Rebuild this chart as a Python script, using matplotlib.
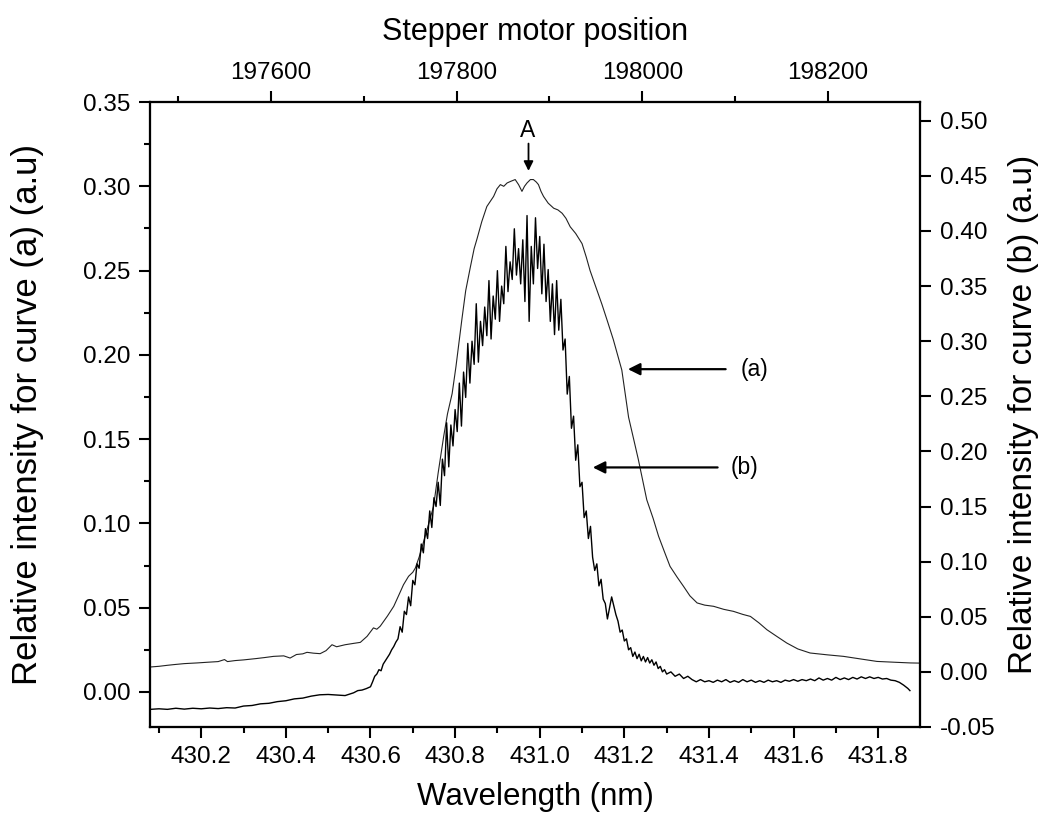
import numpy as np
import matplotlib
matplotlib.use("Agg")
import matplotlib.pyplot as plt
from matplotlib.ticker import MultipleLocator, FormatStrFormatter

plt.rcParams['font.family'] = ['Liberation Sans', 'DejaVu Sans']

# curve (a): left axis, thin line
wl_a = [430.080, 430.100, 430.120, 430.135, 430.160, 430.190, 430.214, 430.240, 430.255, 430.262,
        430.280, 430.300, 430.330, 430.350, 430.371, 430.395, 430.410, 430.425, 430.440, 430.450,
        430.465, 430.481, 430.495, 430.509, 430.520, 430.540, 430.560, 430.576, 430.592, 430.607,
        430.615, 430.623, 430.640, 430.655, 430.668, 430.678, 430.690, 430.700, 430.706, 430.715,
        430.730, 430.749, 430.760, 430.773, 430.782, 430.793, 430.802, 430.808, 430.816, 430.825,
        430.836, 430.845, 430.852, 430.863, 430.875, 430.883, 430.891, 430.899, 430.907, 430.915,
        430.923, 430.932, 430.942, 430.950, 430.958, 430.964, 430.970, 430.978, 430.985, 430.992,
        430.997, 431.003, 431.009, 431.020, 431.033, 431.043, 431.053, 431.062, 431.072, 431.085,
        431.100, 431.110, 431.119, 431.133, 431.147, 431.160, 431.174, 431.194, 431.210, 431.222,
        431.233, 431.253, 431.268, 431.281, 431.295, 431.308, 431.325, 431.340, 431.355, 431.372,
        431.390, 431.411, 431.435, 431.458, 431.480, 431.498, 431.518, 431.537, 431.560, 431.584,
        431.610, 431.639, 431.680, 431.718, 431.760, 431.797, 431.840, 431.876, 431.899]
int_a = [0.0148, 0.0152, 0.0158, 0.0162, 0.0168, 0.0172, 0.0176, 0.0180, 0.0192, 0.0180,
         0.0186, 0.0190, 0.0198, 0.0204, 0.0211, 0.0214, 0.0201, 0.0222, 0.0226, 0.0235,
         0.0230, 0.0227, 0.0245, 0.0280, 0.0268, 0.0280, 0.0288, 0.0294, 0.0330, 0.0380,
         0.0372, 0.0390, 0.0450, 0.0508, 0.0580, 0.0636, 0.0686, 0.0710, 0.0735, 0.0800,
         0.0930, 0.1100, 0.1300, 0.1516, 0.1650, 0.1770, 0.1930, 0.2050, 0.2210, 0.2380,
         0.2520, 0.2630, 0.2690, 0.2790, 0.2880, 0.2910, 0.2940, 0.2985, 0.3010, 0.3000,
         0.3020, 0.3030, 0.3040, 0.3010, 0.2970, 0.3000, 0.3020, 0.3040, 0.3040, 0.3025,
         0.3010, 0.2970, 0.2940, 0.2900, 0.2870, 0.2860, 0.2840, 0.2810, 0.2760, 0.2720,
         0.2660, 0.2580, 0.2500, 0.2400, 0.2300, 0.2200, 0.2090, 0.1910, 0.1630, 0.1500,
         0.1380, 0.1140, 0.1030, 0.0923, 0.0830, 0.0745, 0.0680, 0.0626, 0.0570, 0.0528,
         0.0515, 0.0508, 0.0490, 0.0478, 0.0460, 0.0448, 0.0410, 0.0369, 0.0330, 0.0290,
         0.0255, 0.0231, 0.0220, 0.0211, 0.0195, 0.0181, 0.0176, 0.0172, 0.0171]

# curve (b): right axis, noisy
wl_b = [430.08, 430.10, 430.12, 430.14, 430.16, 430.18, 430.20, 430.22, 430.24, 430.26,
        430.28, 430.30, 430.32, 430.34, 430.36, 430.38, 430.40, 430.42, 430.44, 430.46,
        430.48, 430.50, 430.52, 430.54, 430.56, 430.57, 430.58, 430.59, 430.60, 430.605,
        430.61, 430.615, 430.62, 430.625, 430.63, 430.635, 430.64, 430.645, 430.65, 430.655,
        430.66,
        430.665, 430.670, 430.675, 430.680, 430.685, 430.690, 430.695, 430.700, 430.705, 430.710,
        430.715, 430.720, 430.725, 430.730, 430.735, 430.740, 430.745, 430.750, 430.755, 430.760,
        430.765, 430.770, 430.775, 430.780, 430.785, 430.790, 430.795, 430.800, 430.805, 430.810,
        430.815, 430.820, 430.825, 430.830, 430.835, 430.840, 430.845, 430.850, 430.855, 430.860,
        430.865, 430.870, 430.875, 430.880, 430.885, 430.890, 430.895, 430.900, 430.905, 430.910,
        430.915, 430.920, 430.925, 430.930, 430.935, 430.940, 430.945, 430.950, 430.955, 430.960,
        430.965, 430.970, 430.975, 430.980, 430.985, 430.990, 430.995, 431.000, 431.005, 431.010,
        431.015, 431.020, 431.025, 431.030, 431.035, 431.040, 431.045, 431.050, 431.055, 431.060,
        431.065, 431.070, 431.075, 431.080, 431.085, 431.090, 431.095, 431.100, 431.105, 431.110,
        431.115, 431.120, 431.125,
        431.130, 431.135, 431.140, 431.145, 431.150, 431.155, 431.160, 431.165, 431.170, 431.175,
        431.180, 431.185, 431.190, 431.195, 431.200, 431.205, 431.210, 431.215, 431.220, 431.225,
        431.230, 431.235, 431.240, 431.245, 431.250, 431.255, 431.260, 431.265, 431.270, 431.275,
        431.280, 431.285, 431.290, 431.295, 431.300, 431.310, 431.320, 431.330, 431.340, 431.350,
        431.36, 431.37, 431.38, 431.39, 431.40, 431.41, 431.42, 431.43, 431.44, 431.45,
        431.46, 431.47, 431.48, 431.49, 431.50, 431.51, 431.52, 431.53, 431.54, 431.55,
        431.56, 431.57, 431.58, 431.59, 431.60, 431.61, 431.62, 431.63, 431.64, 431.65,
        431.66, 431.67, 431.68, 431.69, 431.70, 431.71, 431.72, 431.73, 431.74, 431.75,
        431.76, 431.77, 431.78, 431.79, 431.80, 431.81, 431.82, 431.83, 431.84, 431.85,
        431.86, 431.87, 431.875]
int_b = [-0.0340, -0.0335, -0.0340, -0.0330, -0.0338, -0.0330, -0.0335, -0.0328, -0.0333, -0.0325,
         -0.0328, -0.0310, -0.0305, -0.0290, -0.0285, -0.0270, -0.0262, -0.0245, -0.0238, -0.0220,
         -0.0208, -0.0205, -0.0210, -0.0215, -0.0190, -0.0170, -0.0165, -0.0152, -0.0135, -0.0090,
         -0.0040, -0.0020, 0.0020, 0.0010, 0.0070, 0.0100, 0.0130, 0.0160, 0.0200, 0.0230,
         0.0270,
         0.030, 0.041, 0.036, 0.055, 0.052, 0.068, 0.060, 0.083, 0.079, 0.098,
         0.094, 0.116, 0.108, 0.130, 0.121, 0.146, 0.131, 0.158, 0.150, 0.172,
         0.151, 0.193, 0.178, 0.226, 0.186, 0.224, 0.205, 0.238, 0.218, 0.262,
         0.223, 0.272, 0.249, 0.298, 0.262, 0.300, 0.279, 0.334, 0.281, 0.318,
         0.296, 0.331, 0.305, 0.355, 0.302, 0.341, 0.320, 0.364, 0.318, 0.350,
         0.334, 0.386, 0.345, 0.372, 0.356, 0.402, 0.360, 0.384, 0.352, 0.392,
         0.336, 0.414, 0.318, 0.386, 0.352, 0.412, 0.366, 0.395, 0.343, 0.388,
         0.336, 0.365, 0.318, 0.352, 0.306, 0.355, 0.310, 0.338, 0.292, 0.302,
         0.252, 0.268, 0.221, 0.232, 0.192, 0.206, 0.168, 0.172, 0.140, 0.146,
         0.121, 0.132, 0.104,
         0.092, 0.098, 0.078, 0.084, 0.066, 0.062, 0.048, 0.058, 0.068, 0.060,
         0.052, 0.046, 0.036, 0.038, 0.028, 0.030, 0.020, 0.022, 0.014, 0.018,
         0.012, 0.016, 0.010, 0.014, 0.009, 0.013, 0.008, 0.011, 0.006, 0.009,
         0.003, 0.005, 0.000, 0.002, -0.002, 0.000, -0.004, -0.002, -0.006, -0.004,
         -0.0070, -0.0090, -0.0070, -0.0090, -0.0080, -0.0095, -0.0075, -0.0090, -0.0070, -0.0095,
         -0.0080, -0.0095, -0.0070, -0.0090, -0.0075, -0.0095, -0.0080, -0.0095, -0.0075, -0.0090,
         -0.0080, -0.0095, -0.0075, -0.0085, -0.0070, -0.0085, -0.0070, -0.0080, -0.0065, -0.0080,
         -0.0055, -0.0075, -0.0060, -0.0075, -0.0050, -0.0070, -0.0055, -0.0070, -0.0050, -0.0065,
         -0.0045, -0.0060, -0.0045, -0.0060, -0.0050, -0.0065, -0.0060, -0.0075, -0.0080, -0.0095,
         -0.0120, -0.0150, -0.0170]

bottom_ticks = [430.2, 430.4, 430.6, 430.8, 431.0, 431.2, 431.4, 431.6, 431.8]
top_ticks = [197600, 197800, 198000, 198200]

fig = plt.figure(figsize=(10.42, 8.13), dpi=100)
ax = fig.add_axes([0.144, 0.1058, 0.739, 0.7687])
ax2 = ax.twinx()
ax3 = ax.twiny()

ax.plot(wl_a, int_a, color="#222222", linewidth=0.8)
ax2.plot(wl_b, int_b, color="black", linewidth=1.0)

ax.set_xlim(430.079, 431.899)
ax.set_ylim(-0.0208, 0.35)
ax2.set_ylim(-0.05, 0.517)
ax3.set_xlim(197470, 198299)

ax.set_xticks(bottom_ticks)
ax.xaxis.set_minor_locator(MultipleLocator(0.1))
ax.xaxis.set_major_formatter(FormatStrFormatter("%.1f"))
ax.yaxis.set_major_locator(MultipleLocator(0.05))
ax.yaxis.set_minor_locator(MultipleLocator(0.025))
ax.yaxis.set_major_formatter(FormatStrFormatter("%.2f"))
ax2.set_yticks(np.arange(-0.05, 0.51, 0.05))
ax2.yaxis.set_major_formatter(FormatStrFormatter("%.2f"))
ax3.set_xticks(top_ticks)
ax3.xaxis.set_minor_locator(MultipleLocator(100))

for a in (ax, ax2, ax3):
    for s in a.spines.values():
        s.set_linewidth(1.5)
    a.tick_params(which="major", direction="out", length=8, width=1.5, labelsize=17.5)
    a.tick_params(which="minor", direction="out", length=4.5, width=1.5)
ax.tick_params(axis="both", which="major", pad=6)
ax2.tick_params(axis="y", pad=6)
ax3.tick_params(axis="x", pad=5)

ax.set_xlabel("Wavelength (nm)", fontsize=22.5, labelpad=10)
ax3.set_xlabel("Stepper motor position", fontsize=22, labelpad=16)
ax.set_ylabel("Relative intensity for curve (a) (a.u)", fontsize=25)
ax2.set_ylabel("Relative intensity for curve (b) (a.u)", fontsize=24, labelpad=9)
ax.yaxis.set_label_coords(-0.138, 0.5)

# annotations
ax.text(430.9715, 0.3334, "A", fontsize=16.5, ha="center", va="center")
ax.annotate("", xy=(430.9735, 0.3075), xytext=(430.9735, 0.3270),
            arrowprops=dict(arrowstyle="-|>", color="black", lw=1.3, mutation_scale=14))
ax.annotate("", xy=(431.202, 0.1915), xytext=(431.446, 0.1915),
            arrowprops=dict(arrowstyle="-|>", color="black", lw=1.6, mutation_scale=18))
ax.text(431.475, 0.1915, "(a)", fontsize=16.5, ha="left", va="center")
ax.annotate("", xy=(431.119, 0.1332), xytext=(431.427, 0.1332),
            arrowprops=dict(arrowstyle="-|>", color="black", lw=1.6, mutation_scale=18))
ax.text(431.451, 0.1332, "(b)", fontsize=16.5, ha="left", va="center")

fig.savefig("out.png", dpi=100)
